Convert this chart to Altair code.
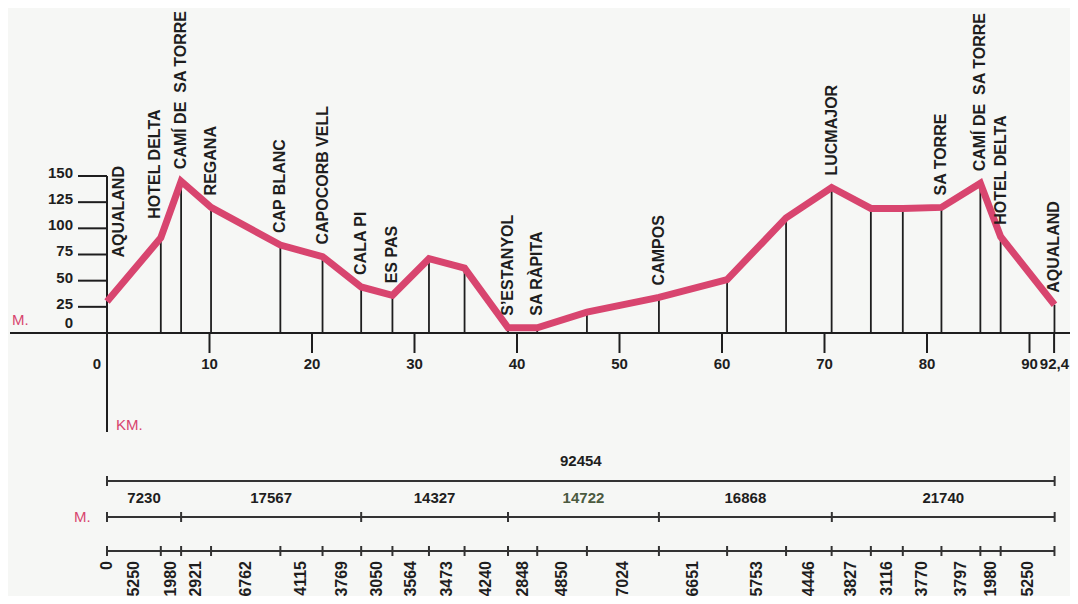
import altair as alt
import pandas as pd
import numpy as np

# ---------------- data ----------------
seg_m = [5250, 1980, 2921, 6762, 4115, 3769, 3050, 3564, 3473, 4240, 2848,
         4850, 7024, 6651, 5753, 4446, 3827, 3116, 3770, 3797, 1980, 5250]
elev = [30, 91, 145, 120, 84, 73, 44, 36, 71, 62, 5, 5,
        20, 34, 51, 110, 139, 119, 119, 120, 143, 92, 27]
names = ["AQUALAND", "HOTEL DELTA", "CAMÍ DE\u00a0 SA TORRE", "REGANA", "CAP BLANC",
         "CAPOCORB VELL", "CALA PI", "ES PAS", "", "", "S’ESTANYOL", "SA RÀPITA",
         "", "CAMPOS", "", "", "LUCMAJOR", "", "", "SA TORRE",
         "CAMÍ DE\u00a0 SA TORRE", "HOTEL DELTA", "AQUALAND"]
stage_m = [7230, 17567, 14327, 14722, 16868, 21740]
total_m = 92454
y_ticks = [25, 50, 75, 100, 125, 150]
x_ticks = [10, 20, 30, 40, 50, 60, 70, 80, 90, 92.4]
x_tick_labels = ["10", "20", "30", "40", "50", "60", "70", "80", "90", "92,4"]

# ---------------- layout ----------------
W, H = 1062, 588
PX0, KPX = 99, 10.25      # km 0 pixel, px per km
PY0, KPY = 325, 1.0467    # 0 m pixel, px per m
xs = alt.Scale(domain=[-PX0 / KPX, (W - PX0) / KPX], nice=False, zero=False)
ys = alt.Scale(domain=[-(H - PY0) / KPY, PY0 / KPY], nice=False, zero=False)

RED = "#d8456f"
INK = "#1e1e1e"
FONT = "Liberation Sans"


def X(f):
    return alt.X(f, type="quantitative", scale=xs, axis=None)


def Y(f):
    return alt.Y(f, type="quantitative", scale=ys, axis=None)


cum = np.concatenate([[0], np.cumsum(seg_m)]) / 1000.0
prof = pd.DataFrame({"km": cum, "elev": elev, "name": names, "i": range(len(elev))})

yt = pd.DataFrame({"v": y_ticks, "k": 0.0, "lab": [str(v) for v in y_ticks]})
xt = pd.DataFrame({"k": x_ticks, "lab": x_tick_labels})
zero = pd.DataFrame({"k": [0.0], "v": [0.0]})

# rows
r3_mid = (cum[:-1] + cum[1:]) / 2
row3_lab = pd.DataFrame({"k": np.concatenate([[0.0], r3_mid]),
                         "lab": ["0"] + [str(s) for s in seg_m]})
row3_ticks = pd.DataFrame({"k": cum})
st_edges = np.concatenate([[0], np.cumsum(stage_m)]) / 1000.0
row2_lab = pd.DataFrame({"k": (st_edges[:-1] + st_edges[1:]) / 2,
                         "lab": [str(s) for s in stage_m],
                         "col": [INK, INK, INK, "#4b5a3f", INK, INK]})
row2_ticks = pd.DataFrame({"k": st_edges})
row1_ticks = pd.DataFrame({"k": [0.0, total_m / 1000.0]})
row1_lab = pd.DataFrame({"k": [total_m / 2000.0], "lab": [str(total_m)]})
row_lines = pd.DataFrame({"a": [0.0, 0.0, 0.0],
                          "b": [total_m / 1000.0, st_edges[-1], cum[-1]],
                          "row": [1, 2, 3]})

layers = []

# baseline
layers.append(alt.Chart(zero).mark_rule(color=INK, strokeWidth=2).encode(
    x=alt.value(2), x2=alt.value(W), y=Y("v")))
# vertical axis
layers.append(alt.Chart(zero).mark_rule(color=INK, strokeWidth=2).encode(
    x=X("k"), y=alt.value(168), y2=alt.value(424)))
# y ticks
layers.append(alt.Chart(yt).mark_rule(color=INK, strokeWidth=2).encode(
    x=X("k"), x2=alt.value(70), y=Y("v")))
layers.append(alt.Chart(yt).mark_text(font=FONT, fontWeight="bold", fontSize=15,
                                      align="right", baseline="middle", dy=-3,
                                      color=INK).encode(
    x=alt.value(65), y=Y("v"), text="lab:N"))
layers.append(alt.Chart(zero).mark_text(font=FONT, fontWeight="bold", fontSize=15,
                                        align="right", baseline="middle", dy=-10,
                                        color=INK).encode(
    x=alt.value(65), y=Y("v"), text=alt.value("0")))
# x ticks
layers.append(alt.Chart(xt).mark_rule(color=INK, strokeWidth=2).encode(
    x=X("k"), y=alt.value(PY0), y2=alt.value(345)))
layers.append(alt.Chart(xt).transform_filter("datum.k < 92").mark_text(
    font=FONT, fontWeight="bold", fontSize=15, align="center", baseline="middle",
    color=INK).encode(x=X("k"), y=alt.value(356), text="lab:N"))
layers.append(alt.Chart(xt).transform_filter("datum.k > 92").mark_text(
    font=FONT, fontWeight="bold", fontSize=15, align="right", baseline="middle",
    color=INK).encode(x=alt.value(W - 1), y=alt.value(356), text="lab:N"))
layers.append(alt.Chart(zero).mark_text(font=FONT, fontWeight="bold", fontSize=15,
                                        align="center", baseline="middle",
                                        color=INK).encode(
    x=alt.value(89), y=alt.value(356), text=alt.value("0")))
# drop lines
layers.append(alt.Chart(prof).mark_rule(color=INK, strokeWidth=1.8).encode(
    x=X("km"), y=Y("elev"), y2=alt.value(PY0)))
# profile
layers.append(alt.Chart(prof).mark_line(color=RED, strokeWidth=7, strokeJoin="miter").encode(
    x=X("km"), y=Y("elev"), order="i:Q"))
# place labels
lab_style = dict(font=FONT, fontWeight="bold", fontSize=16, angle=270,
                 align="left", baseline="middle", color=INK)
layers.append(alt.Chart(prof).transform_filter("datum.name != '' && datum.i > 1").mark_text(
    dx=12, **lab_style).encode(x=X("km"), y=Y("elev"), text="name:N"))
layers.append(alt.Chart(prof).transform_filter("datum.i == 0").mark_text(
    dx=44, dy=12, **lab_style).encode(x=X("km"), y=Y("elev"), text="name:N"))
layers.append(alt.Chart(prof).transform_filter("datum.i == 1").mark_text(
    dx=19, dy=-6, **lab_style).encode(x=X("km"), y=Y("elev"), text="name:N"))

# red unit labels
red_style = dict(font=FONT, fontSize=15, color=RED, align="left", baseline="middle")
layers.append(alt.Chart(zero).mark_text(**red_style).encode(
    x=alt.value(4), y=alt.value(312), text=alt.value("M.")))
layers.append(alt.Chart(zero).mark_text(**red_style).encode(
    x=alt.value(66), y=alt.value(509), text=alt.value("M.")))
layers.append(alt.Chart(zero).mark_text(**red_style).encode(
    x=alt.value(108), y=alt.value(417), text=alt.value("KM.")))

# bottom rows
row_y = {1: 473, 2: 509, 3: 543}
for r in (1, 2, 3):
    layers.append(alt.Chart(row_lines).transform_filter(f"datum.row == {r}").mark_rule(
        color="#333333", strokeWidth=2).encode(x=X("a"), x2=alt.X2("b"), y=alt.value(row_y[r])))
for r, tdf in ((1, row1_ticks), (2, row2_ticks), (3, row3_ticks)):
    layers.append(alt.Chart(tdf).mark_rule(color="#333333", strokeWidth=2).encode(
        x=X("k"), y=alt.value(row_y[r] - 5), y2=alt.value(row_y[r] + 5)))

num_style = dict(font=FONT, fontWeight="bold", fontSize=15, baseline="middle")
layers.append(alt.Chart(row1_lab).mark_text(align="center", color=INK, **num_style).encode(
    x=X("k"), y=alt.value(453), text="lab:N"))
layers.append(alt.Chart(row2_lab).mark_text(align="center", **num_style).encode(
    x=X("k"), y=alt.value(490), text="lab:N", color=alt.Color("col:N", scale=None)))
layers.append(alt.Chart(row3_lab).mark_text(
    align="right", angle=270, color=INK, font=FONT, fontWeight="bold", fontSize=16,
    baseline="middle").encode(x=X("k"), y=alt.value(553), text="lab:N"))

chart = alt.layer(*layers).properties(
    width=W, height=H, padding=0,
    autosize=alt.AutoSizeParams(type="none"),
    background="#f6f7f5",
).configure_view(stroke=None)

chart.save("out.html", embed_options={"renderer": "svg", "actions": False})
